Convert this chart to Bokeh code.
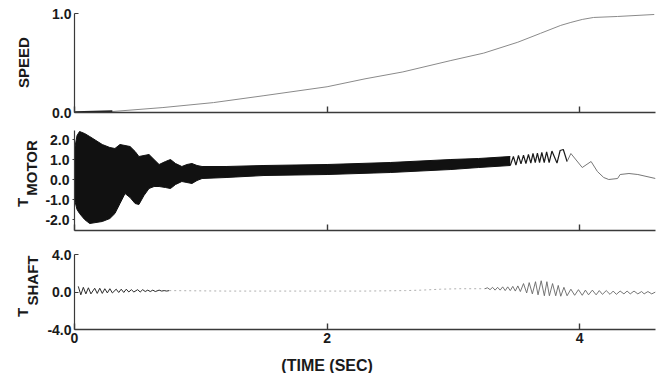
from bokeh.plotting import figure
from bokeh.layouts import column, row
from bokeh.models import Range1d, FixedTicker, PrintfTickFormatter
from bokeh.core.properties import value
from bokeh.embed import file_html
from bokeh.resources import INLINE
import math

# ---------------- data ----------------
x_ticks = [0, 2, 4]
x_tick_labels = {0: "0", 2: "2", 4: "4"}
x_label = "(TIME (SEC)"

speed_t = [0.00, 0.15, 0.30, 0.70, 1.10, 1.50, 2.00, 2.30, 2.60, 2.98, 3.24,
           3.51, 3.69, 3.85, 3.93, 4.02, 4.11, 4.30, 4.59]
speed_v = [0.00, 0.005, 0.01, 0.05, 0.10, 0.17, 0.26, 0.34, 0.41, 0.525, 0.60,
           0.71, 0.80, 0.88, 0.91, 0.94, 0.96, 0.97, 0.99]

# dense (unresolved) part of motor torque: envelope of the black band
tm_band_t = [0.00, 0.02, 0.04, 0.08, 0.12, 0.17, 0.22, 0.28, 0.32, 0.36, 0.40,
             0.44, 0.48, 0.51, 0.55, 0.59, 0.63, 0.67, 0.72, 0.76, 0.80, 0.85,
             0.89, 0.93, 0.97, 1.01, 1.20, 1.50, 2.00, 2.50, 2.98, 3.20, 3.45]
tm_band_hi = [1.5, 2.2, 2.4, 2.3, 2.15, 1.95, 1.75, 1.6, 1.55, 1.75, 1.7,
              1.65, 1.4, 1.15, 1.2, 1.25, 1.0, 0.75, 0.9, 1.0, 0.8, 0.65,
              0.75, 0.8, 0.7, 0.65, 0.65, 0.7, 0.75, 0.85, 1.0, 1.05, 1.15]
tm_band_lo = [-1.0, -1.5, -1.7, -2.0, -2.2, -2.15, -2.1, -1.95, -1.7, -1.2, -0.7,
              -0.9, -1.2, -1.25, -0.8, -0.45, -0.35, -0.35, -0.4, -0.45, -0.25, -0.1,
              -0.15, -0.2, -0.05, 0.05, 0.1, 0.2, 0.25, 0.35, 0.5, 0.6, 0.7]

# resolved part of motor torque
tm_t = [3.45, 3.475, 3.495, 3.515, 3.535, 3.555, 3.574, 3.594, 3.613, 3.630,
        3.648, 3.665, 3.682, 3.700, 3.719, 3.738, 3.758, 3.780, 3.820, 3.845,
        3.870, 3.900, 3.930, 4.020, 4.090, 4.140, 4.190, 4.230, 4.300, 4.320,
        4.390, 4.460, 4.600]
tm_v = [0.70, 1.15, 0.72, 1.20, 0.78, 1.22, 0.80, 1.25, 0.82, 1.30,
        0.85, 1.32, 0.85, 1.35, 0.85, 1.38, 0.85, 1.42, 0.82, 1.45,
        1.50, 0.90, 1.30, 0.60, 0.90, 0.40, 0.10, 0.00, 0.05, 0.25,
        0.30, 0.25, 0.05]

shaft_early_t = [0.03, 0.05, 0.07, 0.09, 0.11, 0.13, 0.16, 0.18, 0.20, 0.22, 0.24,
                 0.26, 0.28, 0.30, 0.33, 0.35, 0.37, 0.39, 0.41, 0.43, 0.45, 0.47,
                 0.50, 0.52, 0.54, 0.56, 0.58, 0.60, 0.62, 0.64, 0.67, 0.69, 0.71,
                 0.73, 0.75]
shaft_early_v = [0.6, -0.3, 0.5, -0.2, 0.45, -0.2, 0.4, -0.15, 0.4, -0.15, 0.35,
                 -0.1, 0.35, -0.1, 0.3, -0.05, 0.3, -0.05, 0.3, 0.0, 0.25, 0.0,
                 0.25, 0.0, 0.25, 0.05, 0.2, 0.05, 0.2, 0.05, 0.2, 0.1, 0.15,
                 0.1, 0.15]
shaft_mid_t = [0.75, 1.2, 1.8, 2.3, 2.62, 2.75, 2.9, 3.05, 3.15, 3.25]
shaft_mid_v = [0.15, 0.1, 0.1, 0.1, 0.15, 0.2, 0.3, 0.35, 0.35, 0.35]
shaft_late_t = [3.25, 3.27, 3.29, 3.31, 3.33, 3.35, 3.37, 3.39, 3.41, 3.43, 3.45,
                3.47, 3.49, 3.51, 3.53, 3.555, 3.58, 3.60, 3.625, 3.65, 3.67,
                3.695, 3.72, 3.74, 3.76, 3.785, 3.81, 3.83, 3.85, 3.875, 3.90,
                3.93, 3.96, 3.99, 4.02, 4.045, 4.07, 4.10, 4.13, 4.155, 4.18,
                4.21, 4.24, 4.265, 4.29, 4.32, 4.35, 4.375, 4.40, 4.43, 4.46,
                4.49, 4.51, 4.54, 4.57, 4.60]
shaft_late_v = [0.35, 0.45, 0.25, 0.5, 0.2, 0.5, 0.2, 0.55, 0.15, 0.55, 0.15,
                0.6, 0.1, 0.65, 0.05, 0.9, -0.1, 1.0, -0.2, 1.1, -0.3,
                1.2, -0.4, 1.1, -0.4, 0.9, -0.4, 0.7, -0.45, 0.5, -0.4,
                0.3, -0.35, 0.25, -0.35, 0.2, -0.3, 0.2, -0.3, 0.15, -0.25,
                0.15, -0.25, 0.1, -0.25, 0.1, -0.2, 0.1, -0.2, 0.1, -0.2,
                0.05, -0.2, 0.05, -0.2, 0.0]

speed_ticks = [0.0, 1.0]
motor_ticks = [-2.0, -1.0, 0.0, 1.0, 2.0]
shaft_ticks = [-4.0, 0.0, 4.0]

# ---------------- styling / layout ----------------
FONT = "Liberation Sans"
INK = "#1a1a1a"
AXIS = "#3a3a3a"
LW = 42            # width of the side-label strip
W = 616            # width of each panel figure
LEFT = 30          # panel left border (frame starts at LW + LEFT)
RIGHT = 3
H1, H2, H3, H4 = 120, 122, 109, 22


def make_fig(height, top, bottom, yr, yticks, tick_in, tick_out, show_x_labels):
    p = figure(width=W, height=height, x_range=xr,
               y_range=Range1d(*yr), output_backend="svg",
               toolbar_location=None, min_border_left=LEFT,
               min_border_right=RIGHT, min_border_top=top,
               min_border_bottom=bottom)
    p.grid.visible = False
    p.outline_line_color = None
    p.background_fill_color = "white"
    p.border_fill_color = "white"

    xa = p.xaxis[0]
    xa.ticker = FixedTicker(ticks=x_ticks)
    xa.major_tick_in = 6
    xa.major_tick_out = 0
    xa.minor_tick_line_color = None
    xa.axis_line_color = AXIS
    xa.axis_line_width = 1.4
    xa.major_tick_line_color = AXIS
    xa.major_tick_line_width = 1.4
    xa.major_label_text_font = FONT
    xa.major_label_text_font_style = "bold"
    xa.major_label_text_font_size = "14px"
    xa.major_label_text_color = INK
    if show_x_labels:
        xa.major_label_overrides = x_tick_labels
        xa.major_label_standoff = 3
    else:
        xa.major_label_overrides = {0: "", 2: "", 4: ""}
        xa.major_label_standoff = 0

    ya = p.yaxis[0]
    ya.ticker = FixedTicker(ticks=yticks)
    ya.formatter = PrintfTickFormatter(format="%.1f")
    ya.major_tick_in = tick_in
    ya.major_tick_out = tick_out
    ya.minor_tick_line_color = None
    ya.axis_line_color = AXIS
    ya.axis_line_width = 1.2
    ya.major_tick_line_color = AXIS
    ya.major_label_text_font = FONT
    ya.major_label_text_font_style = "bold"
    ya.major_label_text_font_size = "14px"
    ya.major_label_text_color = INK
    ya.major_label_standoff = 3
    return p


xr = Range1d(0, 4.6)

# panel 1: speed
p1 = make_fig(H1, 13, 8, (0.0, 1.0), speed_ticks, 4, 0, False)
p1.line(speed_t, speed_v, line_color="#8a8a8a", line_width=1)
p1.line(speed_t[:3], speed_v[:3], line_color="#202020", line_width=2.5)

# panel 2: motor torque
p2 = make_fig(H2, 10, 12, (-2.55, 2.45), motor_ticks, 0, 2, False)
p2.varea(x=tm_band_t, y1=tm_band_lo, y2=tm_band_hi, fill_color="#111111")
p2.line(tm_band_t, tm_band_hi, line_color="#111111", line_width=1)
p2.line(tm_band_t, tm_band_lo, line_color="#111111", line_width=1)
p2.line(tm_t[:22], tm_v[:22], line_color="#1a1a1a", line_width=1.2)
p2.line(tm_t[21:], tm_v[21:], line_color="#777777", line_width=1)

# panel 3: shaft torque
p3 = make_fig(H3, 12, 22, (-4.0, 4.0), shaft_ticks, 4, 0, True)
p3.line(shaft_early_t, shaft_early_v, line_color="#2a2a2a", line_width=1)
p3.line(shaft_mid_t, shaft_mid_v, line_color="#b0b0b0", line_width=1,
        line_dash="2 3")
p3.line(shaft_late_t, shaft_late_v, line_color="#666666", line_width=0.9)

# bottom strip: x-axis title, placed along the shared time scale
p4 = figure(width=W, height=H4, x_range=xr, y_range=Range1d(-8, 14),
            output_backend="svg", toolbar_location=None,
            x_axis_type=None, y_axis_type=None,
            min_border_left=LEFT, min_border_right=RIGHT,
            min_border_top=0, min_border_bottom=0)
p4.outline_line_color = None
p4.grid.visible = False
p4.text(x=[2], y=[0], text=[x_label], text_align="center",
        text_baseline="middle", text_font=value(FONT),
        text_font_style="bold", text_font_size="16px", text_color=INK)

# left strip: rotated y titles (T with subscript)
HT = H1 + H2 + H3 + H4
lab = figure(width=LW, height=HT, x_range=Range1d(0, LW),
             y_range=Range1d(HT, 0), output_backend="svg",
             toolbar_location=None, x_axis_type=None, y_axis_type=None,
             min_border=0)
lab.outline_line_color = None
lab.grid.visible = False
big_txt = ["SPEED", "T", "T"]
big_x = [23, 22, 22]
big_y = [62, 202, 312]
sub_txt = ["MOTOR", "SHAFT"]
sub_x = [31, 32]
sub_y = [167.5, 280]
lab.text(x=big_x, y=big_y, text=big_txt, angle=math.pi / 2,
         text_align="center", text_baseline="middle", text_font=value(FONT),
         text_font_style="bold", text_font_size="15px", text_color=INK)
lab.text(x=sub_x, y=sub_y, text=sub_txt, angle=math.pi / 2,
         text_align="center", text_baseline="middle", text_font=value(FONT),
         text_font_style="bold", text_font_size="15px", text_color=INK)

layout = row(lab, column(p1, p2, p3, p4, spacing=0), spacing=0)
open("out.html", "w").write(file_html(layout, INLINE))
